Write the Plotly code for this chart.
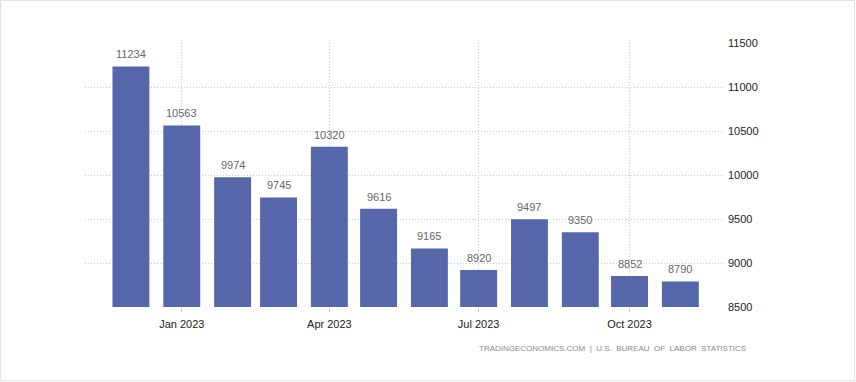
import plotly.graph_objects as go

months = ["2022-12-01", "2023-01-01", "2023-02-01", "2023-03-01", "2023-04-01", "2023-05-01",
          "2023-06-01", "2023-07-01", "2023-08-01", "2023-09-01", "2023-10-01", "2023-11-01"]
values = [11234, 10563, 9974, 9745, 10320, 9616, 9165, 8920, 9497, 9350, 8852, 8790]
y_ticks = [8500, 9000, 9500, 10000, 10500, 11000, 11500]
source = "TRADINGECONOMICS.COM  |  U.S.  BUREAU  OF  LABOR  STATISTICS"

FONT = "Liberation Sans, Arial, sans-serif"
bar_width_ms = 22.5 * 86400000

fig = go.Figure(go.Bar(
    x=months, y=values,
    width=[bar_width_ms] * len(values),
    marker=dict(color="#5567aa", line=dict(width=0)),
    hoverinfo="skip",
))

W, H = 856, 382
L, T = 85, 43
pw, ph = 638, 264
R, B = W - L - pw, H - T - ph

def px_x(x):  # absolute window px -> paper
    return (x - L) / pw

def px_y(y):
    return (T + ph - y) / ph

annotations = [dict(
    x=m, y=v, xref="x", yref="y", text=str(v), showarrow=False,
    xanchor="center", yanchor="middle", yshift=12,
    font=dict(family=FONT, size=11, color="#666666"),
) for m, v in zip(months, values)]

annotations.append(dict(
    text=source, xref="paper", yref="paper",
    x=px_x(748), y=px_y(348),
    xanchor="right", yanchor="middle", showarrow=False,
    font=dict(family=FONT, size=8, color="#8a8a8a"),
))

fig.update_layout(
    width=W, height=H,
    margin=dict(l=L, r=R, t=T, b=B),
    paper_bgcolor="white", plot_bgcolor="white",
    showlegend=False,
    font=dict(family=FONT, size=11, color="#222222"),
    xaxis=dict(
        type="date",
        range=["2022-11-03", "2023-11-27"],
        dtick="M3", tick0="2023-01-01", tickformat="%b %Y",
        showgrid=True, gridcolor="#c8c8c8", griddash="1px,2px", gridwidth=1,
        ticks="outside", ticklen=4, tickcolor="#c8c8c8",
        ticklabelstandoff=3,
        showline=False, zeroline=False,
        tickfont=dict(family=FONT, size=11, color="#222222"),
    ),
    yaxis=dict(
        side="right",
        range=[8500, 11500],
        tickvals=y_ticks, ticktext=[str(v) for v in y_ticks],
        showgrid=True, gridcolor="#c8c8c8", griddash="1px,2px", gridwidth=1,
        ticks="", showline=False, zeroline=False,
        ticklabelstandoff=4,
        tickfont=dict(family=FONT, size=11, color="#222222"),
    ),
    annotations=annotations,
    shapes=[dict(
        type="rect", xref="paper", yref="paper",
        x0=px_x(0.5), x1=px_x(854.5),
        y0=px_y(380.5), y1=px_y(0.5),
        line=dict(color="#e3e3e3", width=1), fillcolor="rgba(0,0,0,0)", layer="below",
    )],
)

fig.write_html(
    "out.html",
    config={"displayModeBar": False},
    post_script="document.body.style.margin='0';document.body.style.overflow='hidden';",
)
